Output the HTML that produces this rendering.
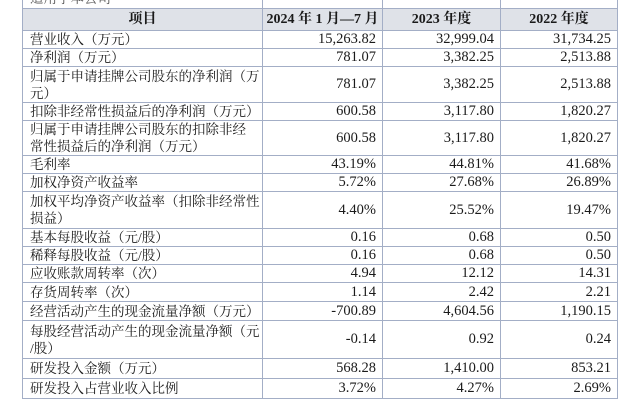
<!DOCTYPE html>
<html><head><meta charset="utf-8"><style>
html,body{margin:0;padding:0;background:#fff;width:640px;height:404px;overflow:hidden}
table{position:absolute;left:22px;top:-12px;width:595px;border-collapse:collapse;table-layout:fixed;font-family:"Liberation Serif","Noto Serif CJK SC",serif;font-size:14.5px;color:#1a1a1a}
td{border:1px solid #a3aec6;padding:0 3px 0 7px;line-height:17px;overflow:hidden;white-space:nowrap;box-sizing:border-box}
td.t{font-size:13.5px}
td.n{text-align:right;padding-right:6px}
tr.h td{background:#dfe2e8;font-weight:bold;text-align:center;font-size:14px;padding:0}
</style></head><body>
<table>
<colgroup><col style="width:240px"><col style="width:120px"><col style="width:118px"><col style="width:117px"></colgroup>
<tr style="height:20px"><td class="t" style="color:#555">适用于本公司</td><td class="n" style="color:#777">······</td><td class="n" style="color:#777">······</td><td class="n" style="color:#777">······</td></tr>
<tr class="h" style="height:22px"><td>项目</td><td>2024 年 1 月—7 月</td><td>2023 年度</td><td>2022 年度</td></tr>
<tr style="height:17px"><td class="t">营业收入（万元）</td><td class="n">15,263.82</td><td class="n">32,999.04</td><td class="n">31,734.25</td></tr>
<tr style="height:17px"><td class="t">净利润（万元）</td><td class="n">781.07</td><td class="n">3,382.25</td><td class="n">2,513.88</td></tr>
<tr style="height:36px"><td class="t">归属于申请挂牌公司股东的净利润（万<br>元）</td><td class="n">781.07</td><td class="n">3,382.25</td><td class="n">2,513.88</td></tr>
<tr style="height:18px"><td class="t">扣除非经常性损益后的净利润（万元）</td><td class="n">600.58</td><td class="n">3,117.80</td><td class="n">1,820.27</td></tr>
<tr style="height:35px"><td class="t">归属于申请挂牌公司股东的扣除非经<br>常性损益后的净利润（万元）</td><td class="n">600.58</td><td class="n">3,117.80</td><td class="n">1,820.27</td></tr>
<tr style="height:18px"><td class="t">毛利率</td><td class="n">43.19%</td><td class="n">44.81%</td><td class="n">41.68%</td></tr>
<tr style="height:18px"><td class="t">加权净资产收益率</td><td class="n">5.72%</td><td class="n">27.68%</td><td class="n">26.89%</td></tr>
<tr style="height:37px"><td class="t">加权平均净资产收益率（扣除非经常性<br>损益）</td><td class="n">4.40%</td><td class="n">25.52%</td><td class="n">19.47%</td></tr>
<tr style="height:18px"><td class="t">基本每股收益（元/股）</td><td class="n">0.16</td><td class="n">0.68</td><td class="n">0.50</td></tr>
<tr style="height:18px"><td class="t">稀释每股收益（元/股）</td><td class="n">0.16</td><td class="n">0.68</td><td class="n">0.50</td></tr>
<tr style="height:18px"><td class="t">应收账款周转率（次）</td><td class="n">4.94</td><td class="n">12.12</td><td class="n">14.31</td></tr>
<tr style="height:19px"><td class="t">存货周转率（次）</td><td class="n">1.14</td><td class="n">2.42</td><td class="n">2.21</td></tr>
<tr style="height:19px"><td class="t">经营活动产生的现金流量净额（万元）</td><td class="n">-700.89</td><td class="n">4,604.56</td><td class="n">1,190.15</td></tr>
<tr style="height:38px"><td class="t">每股经营活动产生的现金流量净额（元<br>/股）</td><td class="n">-0.14</td><td class="n">0.92</td><td class="n">0.24</td></tr>
<tr style="height:20px"><td class="t">研发投入金额（万元）</td><td class="n">568.28</td><td class="n">1,410.00</td><td class="n">853.21</td></tr>
<tr style="height:20px"><td class="t">研发投入占营业收入比例</td><td class="n">3.72%</td><td class="n">4.27%</td><td class="n">2.69%</td></tr>
</table>
</body></html>
